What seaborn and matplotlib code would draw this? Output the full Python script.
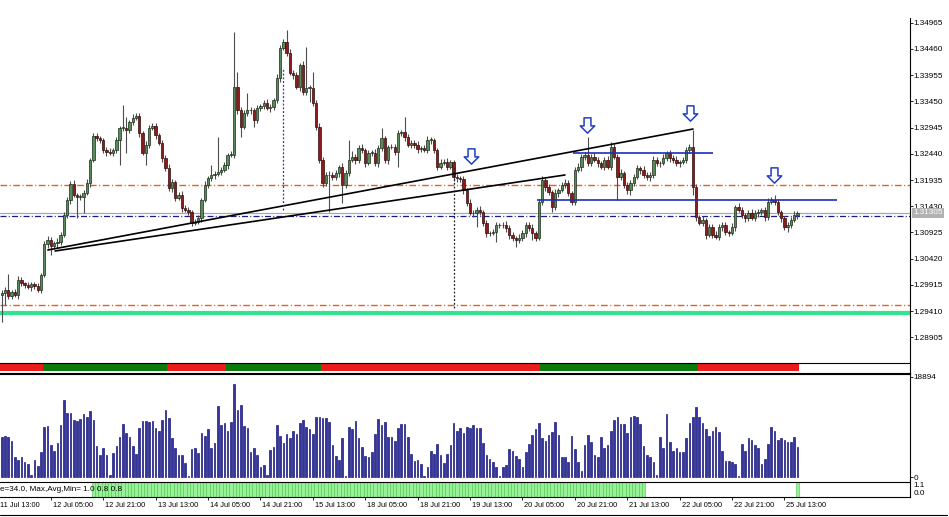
import numpy as np
import pandas as pd
import matplotlib
matplotlib.use('Agg')
import matplotlib.pyplot as plt
import matplotlib.transforms as mtransforms
from matplotlib.path import Path
from matplotlib.lines import Line2D
from matplotlib import font_manager
import seaborn as sns

# hourly candles, bar 0 = 11 Jul 14:00
first_open = 1.2972
close_px = [
    1.2976, 1.2982, 1.2970, 1.2978, 1.2972, 1.3001, 1.2995, 1.2991, 1.2987, 1.2993,
    1.2989, 1.2982, 1.3011, 1.3070, 1.3078, 1.3066, 1.3072, 1.3074, 1.3088, 1.3126,
    1.3155, 1.3186, 1.3165, 1.3161, 1.3161, 1.3169, 1.3188, 1.3232, 1.3278, 1.3274,
    1.3271, 1.3251, 1.3247, 1.3246, 1.3251, 1.3271, 1.3294, 1.3294, 1.3290, 1.3305,
    1.3313, 1.3317, 1.3284, 1.3246, 1.3261, 1.3294, 1.3297, 1.3280, 1.3265, 1.3236,
    1.3216, 1.3178, 1.3190, 1.3159, 1.3165, 1.3140, 1.3136, 1.3132, 1.3111, 1.3113,
    1.3120, 1.3155, 1.3184, 1.3197, 1.3203, 1.3205, 1.3209, 1.3213, 1.3222, 1.3242,
    1.3242, 1.3373, 1.3328, 1.3296, 1.3323, 1.3328, 1.3328, 1.3309, 1.3332, 1.3336,
    1.3342, 1.3332, 1.3334, 1.3348, 1.3390, 1.3448, 1.3459, 1.3438, 1.3400, 1.3396,
    1.3373, 1.3415, 1.3363, 1.3371, 1.3371, 1.3342, 1.3296, 1.3232, 1.3188, 1.3203,
    1.3203, 1.3199, 1.3207, 1.3219, 1.3184, 1.3207, 1.3232, 1.3238, 1.3232, 1.3255,
    1.3251, 1.3226, 1.3246, 1.3246, 1.3226, 1.3255, 1.3274, 1.3232, 1.3257, 1.3257,
    1.3247, 1.3284, 1.3286, 1.3276, 1.3261, 1.3265, 1.3261, 1.3253, 1.3255, 1.3251,
    1.3271, 1.3271, 1.3251, 1.3219, 1.3226, 1.3228, 1.3219, 1.3228, 1.3199, 1.3197,
    1.3195, 1.3174, 1.3149, 1.3130, 1.3130, 1.3136, 1.3132, 1.3111, 1.3091, 1.3091,
    1.3093, 1.3107, 1.3107, 1.3107, 1.3101, 1.3088, 1.3082, 1.3078, 1.3082, 1.3091,
    1.3107, 1.3101, 1.3091, 1.3082, 1.3151, 1.3193, 1.3180, 1.3170, 1.3141, 1.3169,
    1.3174, 1.3184, 1.3188, 1.3169, 1.3151, 1.3213, 1.3219, 1.3238, 1.3242, 1.3226,
    1.3238, 1.3232, 1.3226, 1.3219, 1.3232, 1.3219, 1.3257, 1.3238, 1.3199, 1.3207,
    1.3184, 1.3174, 1.3188, 1.3199, 1.3216, 1.3213, 1.3203, 1.3199, 1.3203, 1.3232,
    1.3226, 1.3226, 1.3236, 1.3246, 1.3236, 1.3232, 1.3226, 1.3228, 1.3232, 1.3251,
    1.3257, 1.3180, 1.3122, 1.3111, 1.3117, 1.3088, 1.3103, 1.3088, 1.3084, 1.3103,
    1.3107, 1.3093, 1.3091, 1.3103, 1.3141, 1.3136, 1.3126, 1.3120, 1.3130, 1.3120,
    1.3130, 1.3132, 1.3136, 1.3122, 1.3151, 1.3155, 1.3151, 1.3132, 1.3120, 1.3103,
    1.3107, 1.3117, 1.3126, 1.3130,
]
# upper / lower shadows in pips
wick_up = [
    6, 5, 30, 4, 6, 8, 5, 3, 6, 4, 5, 7, 4, 6, 8, 5, 4, 7, 6, 5,
    6, 5, 7, 4, 6, 5, 8, 4, 6, 7, 5, 4, 6, 8, 5, 6, 4, 44, 21, 5,
    7, 5, 6, 4, 8, 5, 6, 7, 4, 5, 6, 8, 5, 4, 6, 7, 5, 6, 4, 5,
    6, 4, 7, 5, 19, 6, 67, 5, 6, 4, 7, 106, 29, 6, 5, 34, 7, 5, 6, 4,
    5, 7, 6, 4, 8, 5, 6, 23, 7, 5, 6, 4, 7, 79, 6, 31, 5, 8, 6, 5,
    7, 5, 6, 4, 8, 5, 39, 12, 5, 6, 7, 4, 6, 5, 7, 6, 20, 5, 4, 6,
    5, 6, 4, 29, 7, 5, 6, 8, 4, 5, 7, 6, 4, 5, 8, 6, 7, 4, 5, 6,
    4, 6, 5, 7, 6, 5, 8, 4, 6, 5, 7, 6, 4, 5, 7, 6, 5, 4, 8, 6,
    6, 5, 7, 4, 6, 8, 5, 6, 4, 7, 5, 6, 8, 5, 4, 6, 7, 5, 6, 34,
    5, 7, 6, 4, 5, 8, 10, 6, 5, 7, 4, 6, 5, 7, 6, 4, 8, 5, 6, 7,
    6, 5, 7, 4, 6, 5, 8, 4, 6, 7, 5, 33, 6, 5, 7, 4, 6, 5, 8, 6,
    5, 6, 4, 7, 5, 8, 6, 4, 5, 7, 6, 5, 4, 6, 7, 5, 10, 6, 4, 5,
    6, 5, 7, 4,
]
wick_dn = [
    52, 23, 6, 5, 4, 7, 5, 6, 4, 8, 5, 4, 6, 5, 7, 17, 6, 9, 5, 4,
    5, 7, 4, 41, 6, 31, 5, 8, 4, 6, 7, 5, 8, 4, 6, 5, 49, 6, 44, 5,
    6, 4, 7, 5, 24, 6, 5, 7, 4, 8, 6, 5, 7, 6, 4, 8, 5, 6, 7, 5,
    5, 7, 4, 6, 5, 8, 4, 6, 5, 7, 4, 6, 8, 20, 5, 6, 7, 13, 5, 6,
    6, 4, 7, 5, 6, 8, 5, 6, 4, 7, 5, 8, 6, 5, 27, 6, 7, 5, 8, 6,
    71, 6, 5, 7, 35, 5, 6, 4, 7, 5, 6, 8, 4, 6, 5, 7, 6, 5, 8, 4,
    6, 28, 5, 7, 4, 6, 5, 7, 6, 4, 5, 8, 6, 7, 5, 4, 6, 5, 8, 7,
    5, 7, 6, 4, 8, 27, 5, 6, 7, 5, 4, 19, 6, 5, 7, 8, 6, 14, 5, 6,
    7, 5, 13, 6, 4, 5, 7, 6, 9, 5, 8, 4, 6, 7, 5, 6, 4, 8, 5, 6,
    6, 4, 7, 5, 6, 5, 7, 4, 44, 6, 5, 7, 9, 6, 4, 8, 5, 6, 7, 5,
    5, 7, 4, 6, 8, 5, 6, 7, 4, 5, 6, 15, 7, 5, 6, 8, 4, 6, 5, 6,
    7, 5, 6, 4, 8, 5, 6, 7, 5, 4, 6, 8, 5, 7, 6, 4, 5, 6, 7, 5,
    10, 6, 5, 7,
]
volume = [
    7620, 7750, 7620, 6800, 3720, 3210, 3840, 2900, 2460, 300,
    3210, 2080, 4660, 9510, 9700, 6050, 4980, 6490, 9760, 14550,
    12030, 12030, 10770, 10640, 10900, 11900, 11400, 12470, 10770, 5860,
    4160, 5420, 4160, 300, 4470, 5860, 7620, 9950, 8380, 7490,
    5860, 4350, 9200, 10640, 10520, 10450, 10520, 9200, 8750, 10770,
    12660, 11080, 7310, 5420, 4160, 4160, 2580, 250, 5230, 5420,
    4470, 8250, 7750, 9010, 5540, 6360, 13480, 9760, 10270, 8690,
    10450, 17570, 12660, 13600, 9640, 9200, 4790, 5420, 4160, 1950,
    2270, 300, 5100, 5730, 9760, 7750, 6360, 8120, 7310, 8750,
    8120, 10270, 10770, 9510, 9010, 8120, 11270, 11270, 11085, 11085,
    10455, 6046, 4031, 3212, 7432, 250, 9510, 9069, 10581, 7432,
    5605, 3968, 3842, 4786, 8124, 10959, 9825, 10455, 7620, 7620,
    6865, 9195, 9951, 9951, 7620, 4346, 3086, 3212, 2456, 250,
    1826, 4975, 4346, 6235, 4157, 2708, 4346, 6046, 10266, 8754,
    9195, 8250, 9384, 9195, 9825, 9195, 9195, 6361, 4157, 3401,
    2897, 1952, 250, 1952, 2267, 5227, 4975, 3968, 3338, 1952,
    4786, 6235, 7935, 9006, 10140, 7306, 6802, 7873, 8565, 10455,
    7935, 3716, 3716, 2897, 7747, 5227, 2897, 1197, 6046, 7935,
    6676, 4157, 3716, 7495, 5416, 6046, 8754, 10770, 11399, 10014,
    9951, 8376, 11399, 11588, 11273, 9951, 5857, 4157, 3716, 2897,
    380, 7495, 5416, 11840, 6676, 4975, 5416, 4661, 4724, 7306,
    10140, 11399, 13163, 11273, 10140, 9006, 7747, 8691, 9384, 8565,
    4912, 3023, 3023, 2897, 2393, 250, 6235, 4912, 7432, 6991,
    6046, 5416, 2393, 3338, 6235, 9384, 8754, 6991, 7432, 6991,
    6676, 6676, 7495, 5605,
]

# trend strip (red / green) and signal histogram
trend_start = [0, 13, 51, 69, 98, 165, 213]
trend_end = [12, 50, 68, 97, 164, 212, 243]
trend_dir = [-1, 1, -1, 1, -1, 1, -1]
signal_start = [28, 243]
signal_end = [196, 243]

time_ticks = [-1, 15, 31, 47, 63, 79, 95, 111, 127, 143, 159, 175, 191, 207, 223, 239]
time_labels = ['11 Jul 13:00', '12 Jul 05:00', '12 Jul 21:00', '13 Jul 13:00',
               '14 Jul 05:00', '14 Jul 21:00', '15 Jul 13:00', '18 Jul 05:00',
               '18 Jul 21:00', '19 Jul 13:00', '20 Jul 05:00', '20 Jul 21:00',
               '21 Jul 13:00', '22 Jul 05:00', '22 Jul 21:00', '25 Jul 13:00']
price_ticks = [1.34965, 1.34460, 1.33955, 1.33450, 1.32945, 1.32440, 1.31935,
               1.31430, 1.30925, 1.30420, 1.29915, 1.29410, 1.28905]

# drawn objects
bid = 1.31305
level_blue_dd = 1.3124
levels_orange = [1.3184, 1.2952]
level_green = 1.2938
seg_y = [1.3246, 1.3155]
seg_x0 = [174.5, 163.5]
seg_x1 = [217.3, 255.0]
tl_x0 = [14.1, 16.3]
tl_y0 = [1.30587, 1.30568]
tl_x1 = [211.1, 172.0]
tl_y1 = [1.32917, 1.32032]
vl_x = [86.0, 138.1]
vl_top = [1.34092, 1.32186]
vl_bot = [1.31357, 1.29464]
arrow_x = [143.3, 178.7, 210.2, 235.8]
arrow_y = [1.32407, 1.32994, 1.33235, 1.32022]

sns.set_theme(style='white')
installed = {f.name for f in font_manager.fontManager.ttflist}
if 'Liberation Sans Narrow' in installed:
    plt.rcParams['font.family'] = ['Liberation Sans Narrow', 'DejaVu Sans']
    pfs, tfs = 6.8, 5.8
else:
    plt.rcParams['font.family'] = ['Liberation Sans', 'DejaVu Sans']
    pfs, tfs = 5.9, 5.3

W, H = 949, 517
fig = plt.figure(figsize=(W / 100, H / 100), dpi=100)
fig.patch.set_facecolor('white')


def panel(y_top, y_bot):
    return fig.add_axes([0, 1 - y_bot / H, 909.5 / W, (y_bot - y_top) / H])


ax = panel(0, 362)
ax_strip = panel(363, 372.5)
ax_vol = panel(373.5, 481.5)
ax_ind = panel(482, 497.3)

close = np.array(close_px)
open_ = np.r_[first_open, close[:-1]]
top = np.maximum(open_, close)
bot = np.minimum(open_, close)
high = top + np.array(wick_up) * 1e-4
low = bot - np.array(wick_dn) * 1e-4
bars = np.arange(len(close))
up = close >= open_
body = np.maximum(top - bot, 0.00008)

# Candles
ax.vlines(bars, low, high, color='#4d4d4d', lw=0.8, zorder=3)
ax.bar(bars[up], body[up], bottom=bot[up], width=0.72, color='#5a8a5a',
       edgecolor='#1a2c1a', linewidth=0.5, zorder=4)
ax.bar(bars[~up], body[~up], bottom=bot[~up], width=0.72, color='#8a1c1c',
       edgecolor='#350a0a', linewidth=0.5, zorder=4)

# Levels and objects
dashdot = (0, (4.8, 1.8, 0.8, 1.8))
for lv in levels_orange:
    ax.axhline(lv, color='#ea5c22', lw=1.0, ls=dashdot, zorder=2)
ax.axhline(level_green, color='#33e48e', lw=3.0, zorder=2)
ax.axhline(bid, color='#a8a8a8', lw=0.9, zorder=2)
ax.axhline(level_blue_dd, color='#1a1a8c', lw=0.9, ls=dashdot, zorder=2)
ax.hlines(seg_y, seg_x0, seg_x1, color='#1c2eb8', lw=1.2, zorder=5)
for x0, y0, x1, y1 in zip(tl_x0, tl_y0, tl_x1, tl_y1):
    ax.plot([x0, x1], [y0, y1], color='black', lw=1.2, zorder=5)
ax.vlines(vl_x, vl_bot, vl_top, colors=['#3030a0', '#202020'], lw=0.9,
          linestyles=[(0, (1.5, 1.5))], zorder=5)

arrow = Path([(-0.45, 1), (0.45, 1), (0.45, -0.05), (0.95, -0.05), (0, -1),
              (-0.95, -0.05), (-0.45, -0.05), (-0.45, 1)],
             [Path.MOVETO] + [Path.LINETO] * 6 + [Path.CLOSEPOLY])
ax.plot(arrow_x, arrow_y, ls='none', marker=arrow, ms=11, mfc='white',
        mec='#2040c0', mew=1.1, zorder=6)

ax.set_ylim(1.28430, 1.35402)
ax.set_yticks(price_ticks)
ax.set_yticklabels([f'{p:.5f}' for p in price_ticks])
ax.spines['right'].set_bounds(1.28430, 1.35055)
ax.text(1.0038, bid, f'{bid:.5f}', transform=ax.get_yaxis_transform(),
        ha='left', va='center', fontsize=pfs, color='white', zorder=10,
        bbox=dict(fc='#b2b2b2', ec='none', pad=1.0), clip_on=False)

# Trend strip
state = np.zeros(len(close))
for s, e, d in zip(trend_start, trend_end, trend_dir):
    state[s:e + 1] = d
strip_cols = np.where(state > 0, '#0b7a0b', '#ec1b1b')
ax_strip.bar(bars, 0.72, bottom=0.14, width=1.0, color=strip_cols, linewidth=0)
ax_strip.set_ylim(0, 1)
ax_strip.set_yticks([])

# Volumes
vol_df = pd.DataFrame({'bar': bars, 'volume': volume})
sns.barplot(data=vol_df, x='bar', y='volume', native_scale=True, ax=ax_vol,
            color='#34349c', edgecolor='#1c1c80', linewidth=0.5, width=0.5,
            saturation=1, errorbar=None)
ax_vol.set_ylim(-850, 19555)
ax_vol.set_yticks([0, 18894])
ax_vol.set_yticklabels(['0', '18894'])

# Signal histogram
sig = np.zeros(len(close))
for s, e in zip(signal_start, signal_end):
    sig[s:e + 1] = 1.0
on = sig > 0
ax_ind.bar(bars[on], sig[on], width=1.0, color='#98f098', edgecolor='#5ccf5c', linewidth=0.5)
ax_ind.set_ylim(0, 1.02)
ax_ind.set_yticks([])
ax_ind.text(0.0, 0.5, 'e=34.0, Max,Avg,Min= 1.0 0.8 0.8', transform=ax_ind.transAxes,
            ha='left', va='center', fontsize=tfs + 0.6, color='black')
for yy, s in [(0.74, '1.1'), (0.28, '0.0')]:
    ax_ind.text(1.004, yy, s, transform=ax_ind.transAxes, ha='left', va='center',
                fontsize=pfs, color='black', clip_on=False)

for a in (ax, ax_strip, ax_vol, ax_ind):
    a.set_xlim(-0.52, 277.2)
    a.set_facecolor('white')
    a.set_xlabel('')
    a.set_ylabel('')
    a.set_xticks([])
    for s in ('left', 'top', 'bottom'):
        a.spines[s].set_visible(False)
    a.spines['right'].set_visible(True)
    a.spines['right'].set_color('black')
    a.spines['right'].set_linewidth(0.8)
    a.yaxis.tick_right()
    a.tick_params(axis='y', right=True, left=False, direction='out', length=2.2,
                  width=0.6, pad=0.8, labelsize=pfs, colors='black')
for a in (ax_strip, ax_ind):
    for s in ('top', 'bottom'):
        a.spines[s].set_visible(True)
        a.spines[s].set_color('black')
        a.spines[s].set_linewidth(0.8)
ax_vol.spines['top'].set_visible(True)
ax_vol.spines['top'].set_color('black')
ax_vol.spines['top'].set_linewidth(0.8)

# Time axis
ax_ind.set_xticks([t for t in time_ticks if t >= 0])
ax_ind.set_xticklabels([])
ax_ind.tick_params(axis='x', bottom=True, direction='out', length=2.5, width=0.6, colors='black')
lab_tf = mtransforms.offset_copy(ax_ind.get_xaxis_transform(), fig=fig, x=2, y=-8.4, units='dots')
for t, s in zip(time_ticks, time_labels):
    ax_ind.text(t, 0, s, transform=lab_tf, ha='left', va='center', fontsize=tfs,
                color='black', clip_on=False)

fig.add_artist(Line2D([0, 947 / W], [1 - 514.5 / H] * 2, color='black', lw=0.8))

fig.savefig('out.png', dpi=100)
